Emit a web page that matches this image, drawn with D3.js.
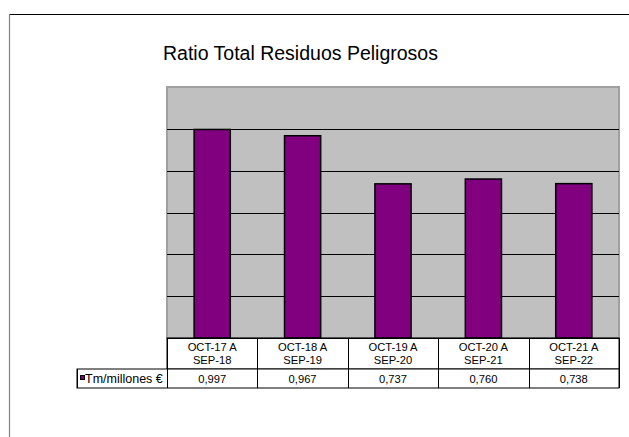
<!DOCTYPE html>
<html>
<head>
<meta charset="utf-8">
<script src="https://cdn.jsdelivr.net/npm/d3@7"></script>
<style>
  html, body { margin: 0; padding: 0; background: #fff; }
  svg { display: block; font-family: "Liberation Sans", Arial, sans-serif; }
</style>
</head>
<body>
<svg id="chart" width="629" height="437"></svg>
<script>
const categoriesLine1 = ["OCT-17 A", "OCT-18 A", "OCT-19 A", "OCT-20 A", "OCT-21 A"];
const categoriesLine2 = ["SEP-18", "SEP-19", "SEP-20", "SEP-21", "SEP-22"];
const values = [0.997, 0.967, 0.737, 0.760, 0.738];
const valueLabels = ["0,997", "0,967", "0,737", "0,760", "0,738"];
const seriesName = "Tm/millones €";
const yTicks = [0, 0.2, 0.4, 0.6, 0.8, 1.0, 1.2];
const title = "Ratio Total Residuos Peligrosos";

const svg = d3.select("#chart");

// outer frame
svg.append("line").attr("x1", 9).attr("x2", 629).attr("y1", 14.5).attr("y2", 14.5)
  .attr("stroke", "#000").attr("stroke-width", 1.2);
svg.append("line").attr("x1", 9.5).attr("x2", 9.5).attr("y1", 14).attr("y2", 437)
  .attr("stroke", "#808080").attr("stroke-width", 1.2);

// title
svg.append("text").attr("x", 163).attr("y", 60)
  .attr("font-size", 19.5).attr("fill", "#000").text(title);

const plotL = 167, plotR = 619, plotT = 87, plotB = 338;
const idx = values.map((d, i) => i);
const x = d3.scaleBand().domain(idx).range([plotL, plotR]).paddingInner(0).paddingOuter(0);
const y = d3.scaleLinear().domain([0, 1.2]).range([plotB, plotT]);

// plot area
svg.append("rect").attr("x", plotL).attr("y", plotT)
  .attr("width", plotR - plotL).attr("height", plotB - plotT)
  .attr("fill", "#C0C0C0").attr("stroke", "#a0a0a0").attr("stroke-width", 2);

// gridlines
svg.append("g").selectAll("line").data(yTicks.filter(t => t > 0 && t < 1.2)).join("line")
  .attr("x1", plotL).attr("x2", plotR)
  .attr("y1", d => Math.round(y(d)) + 0.5).attr("y2", d => Math.round(y(d)) + 0.5)
  .attr("stroke", "#000").attr("stroke-width", 1);

// bars
const barW = x.bandwidth() * 0.4;
svg.append("g").selectAll("rect").data(values).join("rect")
  .attr("x", (d, i) => x(i) + (x.bandwidth() - barW) / 2)
  .attr("y", d => y(d))
  .attr("width", barW)
  .attr("height", d => plotB - y(d))
  .attr("fill", "#800080").attr("stroke", "#000").attr("stroke-width", 1.5);

// data table
const rowCatB = 369, rowValB = 388, legL = 77;
const tbl = svg.append("g").attr("stroke", "#000").attr("stroke-width", 1);
tbl.append("rect").attr("x", plotL).attr("y", plotB).attr("width", plotR - plotL).attr("height", rowCatB - plotB)
  .attr("fill", "#fff");
tbl.append("rect").attr("x", legL).attr("y", rowCatB).attr("width", plotR - legL).attr("height", rowValB - rowCatB)
  .attr("fill", "#fff");
tbl.append("line").attr("x1", plotL).attr("x2", plotR).attr("y1", plotB + 0.5).attr("y2", plotB + 0.5);
tbl.selectAll("line.v").data(idx.concat([values.length])).join("line").attr("class", "v")
  .attr("x1", i => Math.round(i < values.length ? x(i) : plotR) + 0.5)
  .attr("x2", i => Math.round(i < values.length ? x(i) : plotR) + 0.5)
  .attr("y1", plotB).attr("y2", rowValB);
tbl.append("line").attr("x1", legL + 0.5).attr("x2", legL + 0.5).attr("y1", rowCatB).attr("y2", rowValB);

const txt = svg.append("g").attr("font-size", 11.2).attr("fill", "#000").attr("text-anchor", "middle");
txt.selectAll("text.c1").data(categoriesLine1).join("text").attr("class", "c1")
  .attr("x", (d, i) => x(i) + x.bandwidth() / 2).attr("y", 351.3).text(d => d);
txt.selectAll("text.c2").data(categoriesLine2).join("text").attr("class", "c2")
  .attr("x", (d, i) => x(i) + x.bandwidth() / 2).attr("y", 364.3).text(d => d);
txt.selectAll("text.v").data(valueLabels).join("text").attr("class", "v")
  .attr("x", (d, i) => x(i) + x.bandwidth() / 2).attr("y", 382.5).text(d => d);

// legend key
svg.append("rect").attr("x", 80.5).attr("y", 375.5).attr("width", 4).attr("height", 4)
  .attr("fill", "#800080").attr("stroke", "#000").attr("stroke-width", 1);
svg.append("text").attr("x", 85).attr("y", 382.5).attr("font-size", 12.5).attr("fill", "#000")
  .text(seriesName);
</script>
</body>
</html>
